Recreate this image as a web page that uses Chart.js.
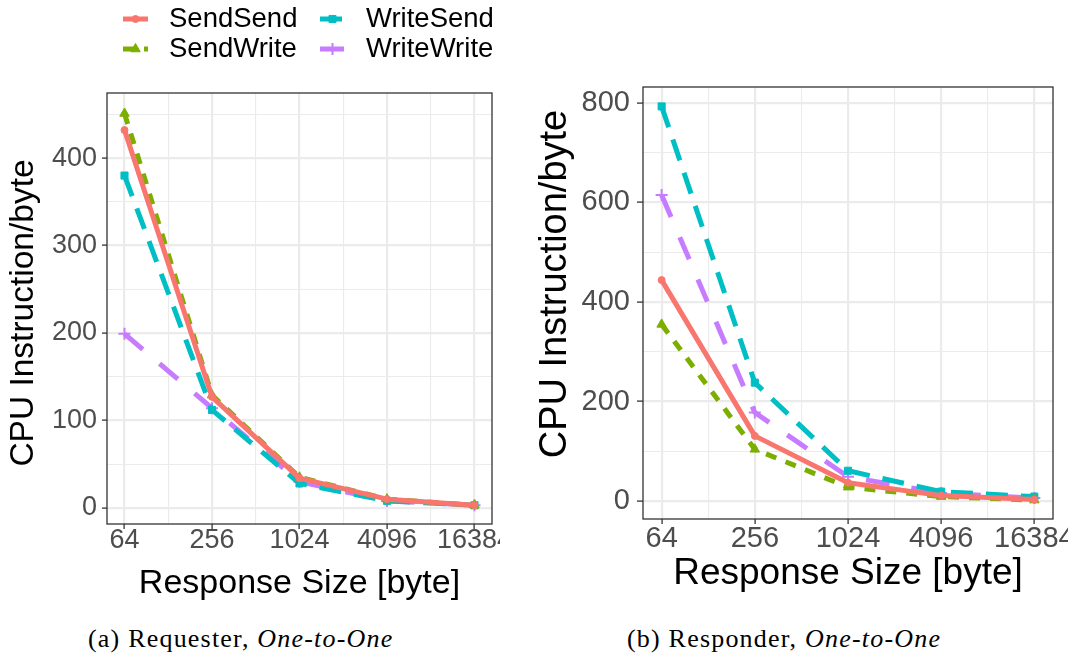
<!DOCTYPE html>
<html>
<head>
<meta charset="utf-8">
<script src="https://cdn.jsdelivr.net/npm/chart.js@4.4.1/dist/chart.umd.min.js"></script>
<style>
  html, body { margin: 0; padding: 0; background: #ffffff; }
  body { width: 1068px; height: 657px; position: relative; overflow: hidden; }
  canvas { position: absolute; top: 0; }
  #cReq { left: 0; }
  #cRes { left: 520px; }
  .caption {
    position: absolute; top: 626px;
    font-family: "Liberation Serif", "Times New Roman", serif;
    font-size: 26px; line-height: 26px; letter-spacing: 1.2px;
    color: #000; white-space: nowrap;
  }
</style>
</head>
<body>
<canvas id="cReq" width="500" height="612"></canvas>
<canvas id="cRes" width="548" height="612"></canvas>
<div class="caption" style="left:88px">(a) Requester, <i>One-to-One</i></div>
<div class="caption" style="left:627px">(b) Responder, <i>One-to-One</i></div>

<script>
// Response sizes in bytes (x axis, log2 spaced)
const responseSizes = [64, 256, 1024, 4096, 16384];
const xTickLabels = ['64', '256', '1024', '4096', '16384'];

// Series names
const seriesNames = ['SendSend', 'SendWrite', 'WriteSend', 'WriteWrite'];

// (a) Requester: CPU instructions per byte
const reqSendSend   = [432, 127, 34, 10, 3];
const reqSendWrite  = [451, 129, 35, 10, 3];
const reqWriteSend  = [380, 112, 28, 8, 3];
const reqWriteWrite = [199, 114, 30, 8, 3];

// (b) Responder: CPU instructions per byte
const resSendSend   = [444, 131, 37, 11, 3];
const resSendWrite  = [355, 104, 28, 9, 2];
const resWriteSend  = [793, 238, 61, 19, 9];
const resWriteWrite = [615, 178, 49, 16, 6];

// Y tick labels
const reqYTicks = [0, 100, 200, 300, 400];
const resYTicks = [0, 200, 400, 600, 800];

const FONT = "'Liberation Sans', Arial, Helvetica, sans-serif";
Chart.defaults.font.family = FONT;

// Line look per series
const seriesStyle = {
  SendSend:   { color: '#F8766D', dash: [],       point: 'circle',   radius: 3.5, pw: 1 },
  SendWrite:  { color: '#7CAE00', dash: [11, 10], point: 'triangle', radius: 5.5, pw: 1 },
  WriteSend:  { color: '#00BFC4', dash: [22, 13], point: 'rect',     radius: 5,   pw: 1 },
  WriteWrite: { color: '#C77CFF', dash: [24, 22], point: 'cross',    radius: 6,   pw: 2 }
};

function makeDataset(name, values) {
  const s = seriesStyle[name];
  return {
    label: name,
    data: responseSizes.map((x, i) => ({ x: x, y: values[i] })),
    borderColor: s.color,
    backgroundColor: s.color,
    borderWidth: 5,
    borderDash: s.dash,
    borderCapStyle: 'butt',
    borderJoinStyle: 'round',
    tension: 0,
    pointStyle: s.point,
    pointRadius: s.radius,
    pointHoverRadius: s.radius,
    pointBackgroundColor: s.color,
    pointBorderColor: s.color,
    pointBorderWidth: s.pw,
    fill: false
  };
}

// Dark frame around the plotting panel
const panelBorder = {
  id: 'panelBorder',
  afterDatasetsDraw(chart) {
    const { ctx, chartArea: a } = chart;
    ctx.save();
    ctx.strokeStyle = '#333333';
    ctx.lineWidth = 1.3;
    ctx.strokeRect(a.left, a.top, a.right - a.left, a.bottom - a.top);
    ctx.restore();
  }
};

// Rotated y-axis title at a given centre
const yAxisTitle = {
  id: 'yAxisTitle',
  afterDraw(chart, args, opts) {
    if (!opts || !opts.text) return;
    const ctx = chart.ctx;
    ctx.save();
    ctx.translate(opts.x, opts.y);
    ctx.rotate(-Math.PI / 2);
    ctx.fillStyle = '#000000';
    ctx.font = opts.size + 'px ' + FONT;
    ctx.textAlign = 'center';
    ctx.textBaseline = 'middle';
    ctx.fillText(opts.text, 0, 0);
    ctx.restore();
  }
};

// Two-column key with line + marker samples
const keyLegend = {
  id: 'keyLegend',
  afterDraw(chart, args, opts) {
    if (!opts || !opts.items) return;
    const ctx = chart.ctx;
    opts.items.forEach((it) => {
      const ds = chart.data.datasets[it.index];
      ctx.save();
      ctx.strokeStyle = ds.borderColor;
      ctx.lineWidth = ds.borderWidth;
      ctx.lineCap = 'butt';
      ctx.setLineDash(ds.borderDash || []);
      ctx.beginPath();
      ctx.moveTo(it.x, it.y);
      ctx.lineTo(it.x + opts.keyWidth, it.y);
      ctx.stroke();
      ctx.setLineDash([]);
      ctx.fillStyle = ds.pointBackgroundColor;
      ctx.strokeStyle = ds.pointBorderColor;
      ctx.lineWidth = ds.pointBorderWidth;
      Chart.helpers.drawPoint(ctx, {
        pointStyle: ds.pointStyle, radius: ds.pointRadius, rotation: 0, borderWidth: ds.pointBorderWidth
      }, it.x + opts.keyWidth / 2, it.y);
      ctx.fillStyle = '#000000';
      ctx.font = opts.font;
      ctx.textAlign = 'left';
      ctx.textBaseline = 'middle';
      ctx.fillText(ds.label, it.x + opts.textGap, it.y);
      ctx.restore();
    });
  }
};

function minorBetween(majors, lo, hi) {
  const step = majors[1] - majors[0];
  const out = [];
  if (majors[0] - step / 2 > lo) out.push(majors[0] - step / 2);
  majors.forEach((m) => { if (m + step / 2 < hi) out.push(m + step / 2); });
  return out;
}

function makeChart(id, datasets, yTicks, g, legendOpts) {
  const xMin = Math.pow(2, 5.6), xMax = Math.pow(2, 14.4);
  const xMinor = responseSizes.slice(1).map((s, i) => Math.sqrt(s * responseSizes[i]));
  const yMinor = minorBetween(yTicks, g.yMin, g.yMax);
  const isMajorX = (v) => responseSizes.some((s) => Math.abs(s - v) < 1e-6);
  const isMajorY = (v) => yTicks.some((t) => Math.abs(t - v) < 1e-6);

  return new Chart(document.getElementById(id), {
    type: 'line',
    data: { datasets: datasets },
    plugins: [panelBorder, keyLegend, yAxisTitle],
    options: {
      responsive: false,
      devicePixelRatio: 1,
      animation: false,
      events: [],
      layout: { padding: { top: g.top, right: g.right, bottom: 0, left: 0 } },
      plugins: {
        legend: { display: false },
        tooltip: { enabled: false },
        keyLegend: legendOpts || {},
        yAxisTitle: { text: 'CPU Instruction/byte', x: g.yTitleX, y: g.yTitleY, size: g.yTitleSize }
      },
      scales: {
        x: {
          type: 'logarithmic',
          min: xMin, max: xMax,
          afterBuildTicks(scale) {
            const vals = responseSizes.concat(xMinor).sort((a, b) => a - b);
            scale.ticks = vals.map((v) => ({ value: v, major: isMajorX(v) }));
          },
          afterFit(scale) {
            scale.height = g.xAxisH;
            scale.paddingLeft = 0; scale.paddingRight = 0;
          },
          border: { display: false },
          grid: {
            color: '#EBEBEB',
            lineWidth: (c) => (c.tick && isMajorX(c.tick.value)) ? 2.2 : 1.1,
            drawTicks: true,
            tickLength: g.xTickLen,
            tickWidth: 1.3,
            tickColor: (c) => (c.tick && isMajorX(c.tick.value)) ? '#333333' : 'rgba(0,0,0,0)'
          },
          ticks: {
            autoSkip: false, minRotation: 0, maxRotation: 0,
            padding: g.xTickPad,
            color: '#4D4D4D',
            font: { size: g.tickSize },
            callback: (v) => {
              const i = responseSizes.findIndex((s) => Math.abs(s - v) < 1e-6);
              return i >= 0 ? xTickLabels[i] : '';
            }
          },
          title: {
            display: true,
            text: 'Response Size [byte]',
            color: '#000000',
            font: { size: g.titleSize },
            padding: { top: 0, bottom: g.xTitlePad }
          }
        },
        y: {
          type: 'linear',
          min: g.yMin, max: g.yMax,
          afterBuildTicks(scale) {
            const vals = yTicks.concat(yMinor).sort((a, b) => a - b);
            scale.ticks = vals.map((v) => ({ value: v }));
          },
          afterFit(scale) {
            scale.width = g.yAxisW;
            scale.paddingTop = 0; scale.paddingBottom = 0;
          },
          border: { display: false },
          grid: {
            color: '#EBEBEB',
            lineWidth: (c) => (c.tick && isMajorY(c.tick.value)) ? 2.2 : 1.1,
            drawTicks: true,
            tickLength: g.yTickLen,
            tickWidth: 1.3,
            tickColor: (c) => (c.tick && isMajorY(c.tick.value)) ? '#333333' : 'rgba(0,0,0,0)'
          },
          ticks: {
            autoSkip: false,
            padding: g.yTickPad,
            color: '#4D4D4D',
            font: { size: g.tickSize },
            callback: (v) => isMajorY(v) ? String(v) : ''
          },
          title: { display: false }
        }
      }
    }
  });
}

// (a) Requester
makeChart('cReq', [
  makeDataset('SendSend', reqSendSend),
  makeDataset('SendWrite', reqSendWrite),
  makeDataset('WriteSend', reqWriteSend),
  makeDataset('WriteWrite', reqWriteWrite)
], reqYTicks, {
  top: 93, right: 8, xAxisH: 88, yAxisW: 107,
  yMin: -18.4, yMax: 474.4,
  tickSize: 27, titleSize: 34,
  xTickLen: 5, xTickPad: -4.2, yTickLen: 5, yTickPad: 5,
  xTitlePad: 8,
  yTitleX: 24, yTitleY: 313, yTitleSize: 33.5
}, {
  keyWidth: 25, textGap: 46,
  font: "27.5px " + FONT,
  items: [
    { index: 0, x: 123, y: 19 },
    { index: 1, x: 123, y: 49 },
    { index: 2, x: 320, y: 19 },
    { index: 3, x: 320, y: 49 }
  ]
});

// (b) Responder
makeChart('cRes', [
  makeDataset('SendSend', resSendSend),
  makeDataset('SendWrite', resSendWrite),
  makeDataset('WriteSend', resWriteSend),
  makeDataset('WriteWrite', resWriteWrite)
], resYTicks, {
  top: 87, right: 15, xAxisH: 93, yAxisW: 123,
  yMin: -36, yMax: 832,
  tickSize: 29, titleSize: 37,
  xTickLen: 5, xTickPad: -2.4, yTickLen: 6, yTickPad: 7,
  xTitlePad: 16,
  yTitleX: 36, yTitleY: 284, yTitleSize: 38
}, null);
</script>
</body>
</html>
